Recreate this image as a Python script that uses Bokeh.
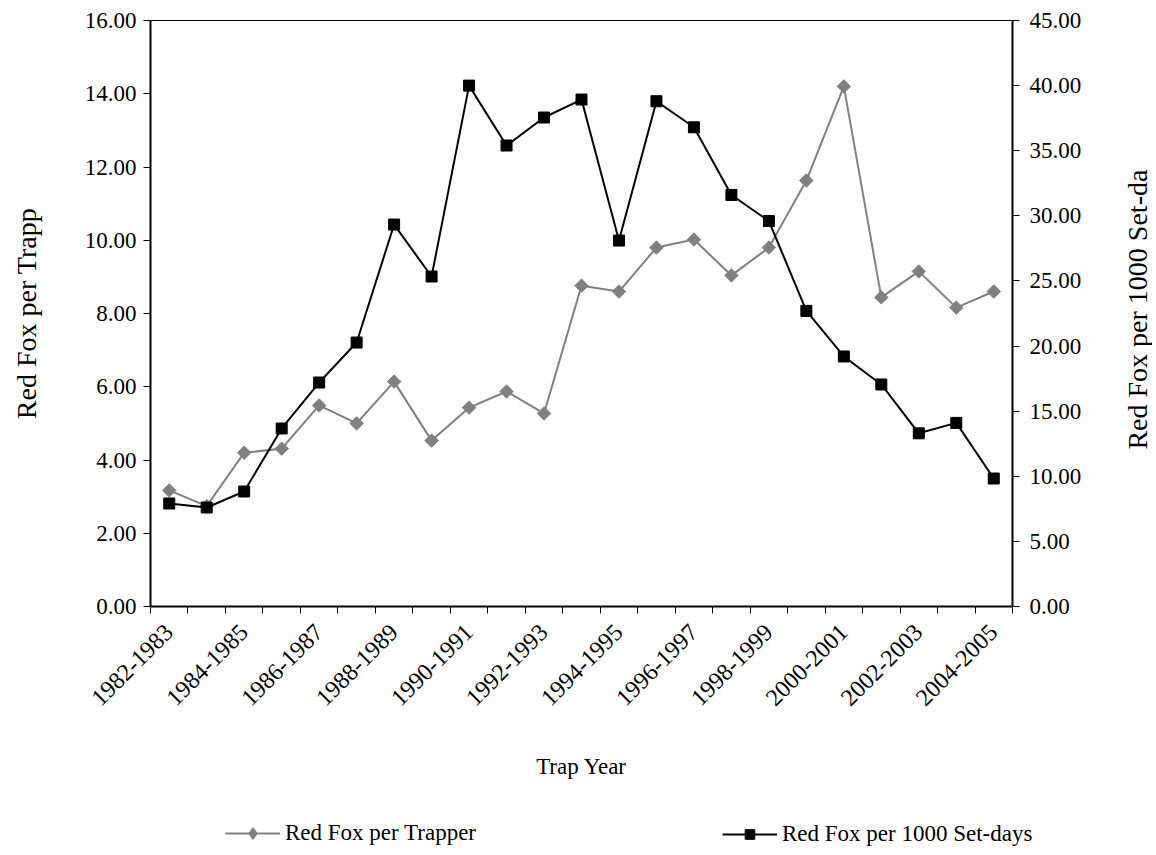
import math
import numpy as np
from bokeh.plotting import figure
from bokeh.layouts import column, row
from bokeh.models import (Range1d, LinearAxis, FixedTicker, NumeralTickFormatter,
                          Legend, LegendItem, Label)
from bokeh.embed import file_html
from bokeh.resources import INLINE

# ---- data ----
categories = ["1982-1983", "1983-1984", "1984-1985", "1985-1986", "1986-1987",
              "1987-1988", "1988-1989", "1989-1990", "1990-1991", "1991-1992",
              "1992-1993", "1993-1994", "1994-1995", "1995-1996", "1996-1997",
              "1997-1998", "1998-1999", "1999-2000", "2000-2001", "2001-2002",
              "2002-2003", "2003-2004", "2004-2005"]
per_trapper = [3.17, 2.74, 4.20, 4.31, 5.49, 5.00, 6.14, 4.53, 5.43, 5.87, 5.27,
               8.76, 8.60, 9.80, 10.02, 9.04, 9.80, 11.63, 14.20, 8.44, 9.15, 8.16, 8.60]
per_1000_setdays = [7.91, 7.60, 8.83, 13.67, 17.20, 20.27, 29.33, 25.34, 40.00, 35.40,
                    37.55, 38.93, 28.10, 38.80, 36.80, 31.60, 29.60, 22.70, 19.20,
                    17.05, 13.30, 14.10, 9.83]
left_ticks = [0, 2, 4, 6, 8, 10, 12, 14, 16]
right_ticks = [0, 5, 10, 15, 20, 25, 30, 35, 40, 45]
series1_name = "Red Fox per Trapper"
series2_name = "Red Fox per 1000 Set-days"
x_title = "Trap Year"
left_title = "Red Fox per Trapp"
right_title = "Red Fox per 1000 Set-da"

FONT = "Liberation Serif"
GREY = "#808080"
n = len(categories)
xs = np.arange(n) + 0.5
label_pos = [float(x) for i, x in enumerate(xs) if i % 2 == 0]
label_map = {float(xs[i]): categories[i] for i in range(0, n, 2)}

TOTAL_W = 1152
W, H = 1118, 800
TOP, BOTTOM = 20, 800 - 606
p = figure(width=W, height=H, output_backend="svg", toolbar_location=None,
           x_range=Range1d(0, n), y_range=Range1d(0, 16),
           min_border_left=150, min_border_right=W - 1012, min_border_top=TOP,
           min_border_bottom=BOTTOM, background_fill_color="white",
           border_fill_color="white")
p.extra_y_ranges = {"right": Range1d(0, 45)}
p.grid.visible = False
p.outline_line_color = "black"
p.outline_line_width = 1

# x axis
xa = p.xaxis[0]
xa.ticker = FixedTicker(ticks=label_pos, minor_ticks=list(range(0, n + 1)))
xa.major_label_overrides = label_map
xa.major_tick_out = 0
xa.major_tick_in = 0
xa.minor_tick_out = 7
xa.minor_tick_in = 0
xa.minor_tick_line_color = "black"
xa.minor_tick_line_width = 1
xa.axis_line_width = 2
xa.major_label_orientation = math.pi / 4
xa.major_label_standoff = 15
xa.major_label_text_font = FONT
xa.major_label_text_font_size = "24px"
xa.major_label_text_color = "black"
xa.axis_label = x_title
xa.axis_label_text_font = FONT
xa.axis_label_text_font_size = "23px"
xa.axis_label_text_font_style = "normal"
xa.axis_label_text_color = "black"
xa.axis_label_standoff = 38

# left y axis
ya = p.yaxis[0]
ya.ticker = FixedTicker(ticks=left_ticks)
ya.formatter = NumeralTickFormatter(format="0.00")
ya.major_tick_out = 7
ya.major_tick_in = 0
ya.minor_tick_out = 0
ya.minor_tick_in = 0
ya.axis_line_width = 2
ya.major_label_standoff = 7
ya.major_label_text_font = FONT
ya.major_label_text_font_size = "23px"
ya.major_label_text_color = "black"
ya.axis_label = left_title
ya.axis_label_text_font = FONT
ya.axis_label_text_font_size = "28px"
ya.axis_label_text_font_style = "normal"
ya.axis_label_text_color = "black"
ya.axis_label_standoff = 40

# right y axis (ticks + tick labels); its title is drawn in the narrow strip to the right
ra = LinearAxis(y_range_name="right", ticker=FixedTicker(ticks=right_ticks),
                formatter=NumeralTickFormatter(format="0.00"))
ra.major_tick_out = 7
ra.major_tick_in = 0
ra.minor_tick_out = 0
ra.minor_tick_in = 0
ra.axis_line_width = 2
ra.major_label_standoff = 10
ra.major_label_text_font = FONT
ra.major_label_text_font_size = "23px"
ra.major_label_text_color = "black"
p.add_layout(ra, "right")

# series
l1 = p.line(xs, per_trapper, line_color=GREY, line_width=2)
m1 = p.scatter(xs, per_trapper, marker="square", angle=math.pi / 4, size=9.5,
               fill_color=GREY, line_color=GREY)
l2 = p.line(xs, per_1000_setdays, line_color="black", line_width=2, y_range_name="right")
m2 = p.scatter(xs, per_1000_setdays, marker="square", size=11,
               fill_color="black", line_color="black", y_range_name="right")

# narrow strip holding the right-hand axis title (reads bottom to top)
RW = TOTAL_W - W
r = figure(width=RW, height=H, output_backend="svg", toolbar_location=None,
           x_axis_type=None, y_axis_type=None,
           min_border_left=0, min_border_right=0,
           min_border_top=TOP, min_border_bottom=BOTTOM,
           x_range=Range1d(0, 1), y_range=Range1d(0, 45),
           background_fill_color="white", border_fill_color="white")
r.outline_line_color = None
r.grid.visible = False
r.add_layout(Label(x=0.55, y=22.8, text=right_title, angle=math.pi / 2,
                   text_align="center", text_baseline="middle",
                   text_font=FONT, text_font_size="28px", text_color="black"))

# legend strip below the chart
LH = 47
q = figure(width=TOTAL_W, height=LH, output_backend="svg", toolbar_location=None,
           x_axis_type=None, y_axis_type=None,
           min_border_left=150, min_border_right=TOTAL_W - 1045,
           min_border_top=0, min_border_bottom=0,
           x_range=Range1d(0, 1), y_range=Range1d(0, 1),
           background_fill_color="white", border_fill_color="white")
q.outline_line_color = None
q.grid.visible = False
off = [-10.0]  # proxy glyphs kept outside the strip's visible range; only used for legend swatches
ql1 = q.line(off, off, line_color=GREY, line_width=2)
qm1 = q.scatter(off, off, marker="diamond", size=12,
                fill_color=GREY, line_color=GREY, line_width=1.5)
ql2 = q.line(off, off, line_color="black", line_width=2)
qm2 = q.scatter(off, off, marker="square", size=11, fill_color="black", line_color="black")


def add_legend(fig, label, rends, x, gh):
    lg = Legend(items=[LegendItem(label=label, renderers=rends)],
                location=(x, 0), orientation="horizontal",
                glyph_width=55, glyph_height=gh, label_standoff=5,
                padding=0, margin=0, border_line_color=None,
                background_fill_alpha=0,
                label_text_font=FONT, label_text_font_size="23px",
                label_text_color="black", label_height=24)
    fig.add_layout(lg, "center")


add_legend(q, series1_name, [ql1, qm1], 75, 28)
add_legend(q, series2_name, [ql2, qm2], 572, 24)

layout = column(row(p, r, spacing=0), q, spacing=0)
open("out.html", "w").write(file_html(layout, INLINE))
